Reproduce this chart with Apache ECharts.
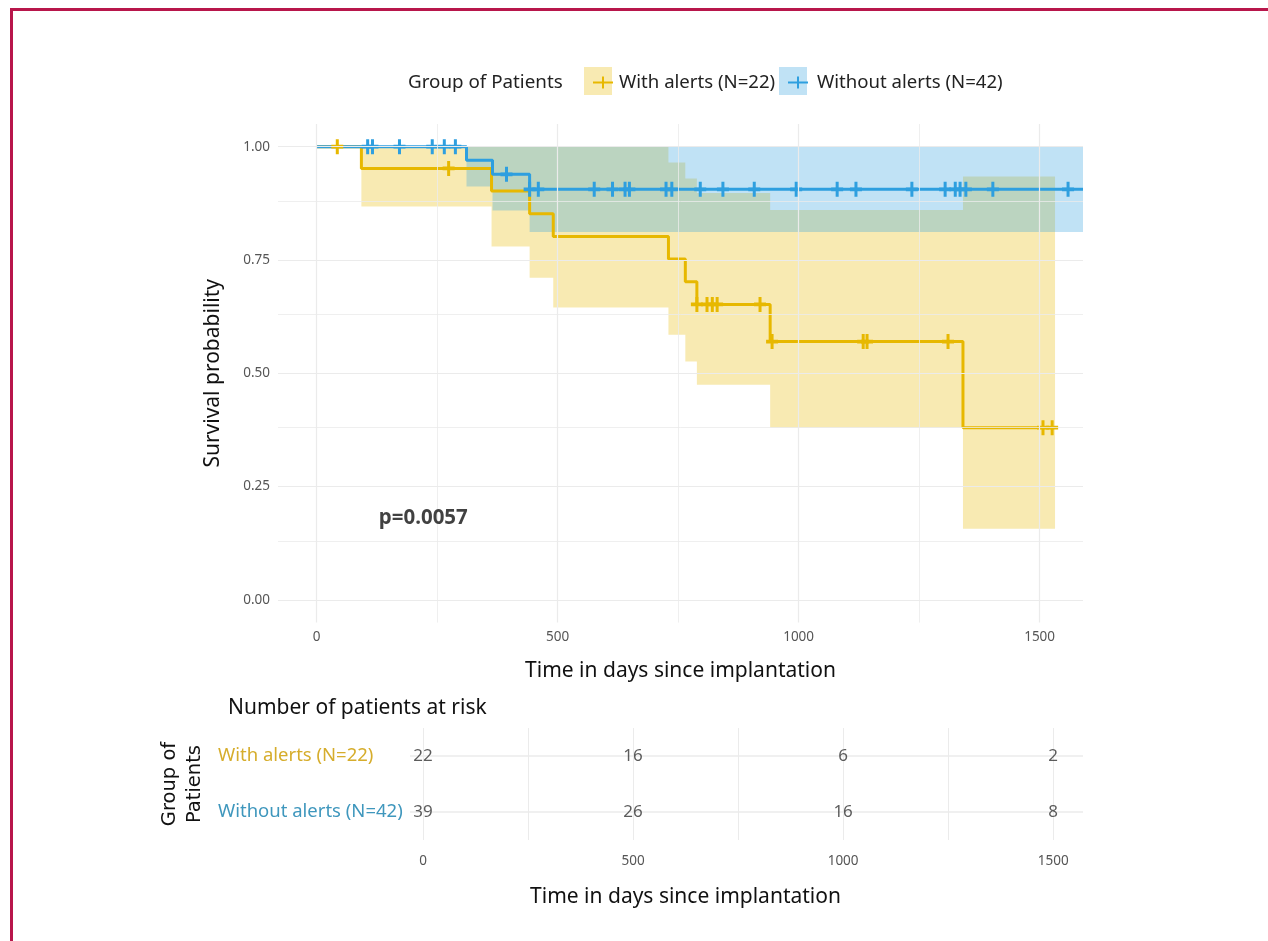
<!DOCTYPE html>
<html><head><meta charset="utf-8">
<script src="https://cdn.jsdelivr.net/npm/echarts@6/dist/echarts.min.js"></script>
<style>
html,body{margin:0;padding:0;background:#fff;}
#frame{position:absolute;left:10px;top:8px;width:1258px;height:933px;border-top:3px solid #b8164b;border-left:3px solid #b8164b;box-sizing:border-box;}
#chart{position:absolute;left:0;top:0;width:1268px;height:941px;}
</style></head><body>
<div id="frame"></div><div id="chart"></div>
<script>
// ---- data ----
const groups = ['With alerts (N=22)', 'Without alerts (N=42)'];
const withSurv = [[0,1],[93,0.952],[363,0.902],[442,0.852],[491,0.802],[730,0.752],[765,0.702],[789,0.652],[941,0.570],[1341,0.380],[1530,0.380]];
const withoutSurv = [[0,1],[311,0.970],[365,0.939],[442,0.906],[1590,0.906]];
const withCensor = [[43,1],[274,0.952],[789,0.652],[810,0.652],[821,0.652],[831,0.652],[920,0.652],[945,0.570],[1134,0.570],[1142,0.570],[1310,0.570],[1507,0.380],[1526,0.380]];
const withoutCensor = [[106,1],[116,1],[172,1],[240,1],[265,1],[288,1],[394,0.939],[442,0.906],[460,0.906],[576,0.906],[614,0.906],[640,0.906],[649,0.906],[725,0.906],[737,0.906],[796,0.906],[843,0.906],[908,0.906],[995,0.906],[1080,0.906],[1119,0.906],[1235,0.906],[1304,0.906],[1325,0.906],[1335,0.906],[1347,0.906],[1403,0.906],[1559,0.906]];
// confidence bands: [start, end, lower, upper]
const withCI = [[93,363,0.868,1],[363,442,0.78,1],[442,491,0.711,1],[491,730,0.645,1],[730,765,0.585,0.965],[765,789,0.526,0.93],[789,941,0.475,0.898],[941,1341,0.38,0.86],[1341,1532,0.157,0.934]];
const withoutCI = [[311,365,0.912,1],[365,442,0.859,1],[442,1590,0.812,1]];
const riskTimes = [0,500,1000,1500];
const withRisk = [22,16,6,2];
const withoutRisk = [39,26,16,8];
const xTicks = [0,500,1000,1500];
const xMinor = [250,750,1250];
const yTicks = [0,0.25,0.5,0.75,1];
const yMinor = [0.125,0.375,0.625,0.875];
const pValue = 'p=0.0057';
const pPos = [129,0.181];

// ---- styles ----
const YEL = '#E7B800', BLU = '#2E9FDF';
const FONT = 'Noto Sans';
const GRID = '#ebebeb';
const plusIcon = 'path://M9,0H11V5H20V7H11V12H9V7H0V5H9Z';
const plusSym = 'path://M-1.5,-6H1.5V-1.5H6V1.5H1.5V6H-1.5V1.5H-6V-1.5H-1.5Z';

function band(segs, color) {
  return {
    type: 'custom', xAxisIndex: 0, yAxisIndex: 0, z: 2, silent: true,
    data: [[0, 0]],
    renderItem: function (params, api) {
      const pts = [];
      segs.forEach(s => { pts.push(api.coord([s[0], s[3]])); pts.push(api.coord([s[1], s[3]])); });
      for (let i = segs.length - 1; i >= 0; i--) {
        const s = segs[i];
        pts.push(api.coord([s[1], s[2]])); pts.push(api.coord([s[0], s[2]]));
      }
      return { type: 'polygon', shape: { points: pts }, style: { fill: color, opacity: 0.3 } };
    }
  };
}

const chart = echarts.init(document.getElementById('chart'), null, { renderer: 'canvas' });
const option = {
  backgroundColor: 'transparent',
  animation: false,
  textStyle: { fontFamily: FONT },
  title: [
    { text: 'Group of Patients', left: 403, top: 68, textStyle: { fontFamily: FONT, fontSize: 18.8, fontWeight: 'normal', color: '#222' } },
    { text: 'Number of patients at risk', left: 223, top: 693, textStyle: { fontFamily: FONT, fontSize: 21, fontWeight: 'normal', color: '#111' } }
  ],
  legend: [
    { left: 588, top: 68, itemWidth: 20, itemHeight: 12, selectedMode: false,
      data: [{ name: groups[0], icon: plusIcon }],
      textStyle: { fontFamily: FONT, fontSize: 18.6, color: '#222', padding: [0, 0, 0, 1] } },
    { left: 783, top: 68, itemWidth: 20, itemHeight: 12, selectedMode: false,
      data: [{ name: groups[1], icon: plusIcon }],
      textStyle: { fontFamily: FONT, fontSize: 18.6, color: '#222', padding: [0, 0, 0, 4] } }
  ],
  graphic: [
    { type: 'rect', z: 0, shape: { x: 584, y: 67, width: 28, height: 28 }, style: { fill: YEL, opacity: 0.3 } },
    { type: 'rect', z: 0, shape: { x: 779, y: 67, width: 28, height: 28 }, style: { fill: BLU, opacity: 0.3 } }
  ],
  grid: [
    { left: 278, right: 185, top: 124, height: 498.6, outerBoundsMode: 'none' },
    { left: 410, right: 185, top: 728, height: 112, outerBoundsMode: 'none' }
  ],
  xAxis: [
    { type: 'value', gridIndex: 0, min: -80, max: 1590,
      name: 'Time in days since implantation', nameLocation: 'middle', nameGap: 38,
      nameTextStyle: { fontFamily: FONT, fontSize: 21, color: '#111' },
      axisLine: { show: false }, splitLine: { show: false },
      axisTick: { show: true, customValues: xTicks, length: 4, lineStyle: { color: '#777' } },
      axisLabel: { customValues: xTicks, margin: 8, fontFamily: FONT, fontSize: 13.5, color: '#555',
        formatter: v => String(v) } },
    { type: 'value', gridIndex: 1, min: -31, max: 1571,
      name: 'Time in days since implantation', nameLocation: 'middle', nameGap: 47,
      nameTextStyle: { fontFamily: FONT, fontSize: 21, color: '#111', padding: [0, 122, 0, 0] },
      axisLine: { show: false }, splitLine: { show: false }, axisTick: { show: false },
      axisLabel: { customValues: riskTimes, margin: 14, fontFamily: FONT, fontSize: 13.5, color: '#555',
        formatter: v => String(v) } }
  ],
  yAxis: [
    { type: 'value', gridIndex: 0, min: -0.05, max: 1.05,
      name: 'Survival probability', nameLocation: 'middle', nameGap: 54, nameRotate: 90,
      nameTextStyle: { fontFamily: FONT, fontSize: 21, color: '#111' },
      axisLine: { show: false }, splitLine: { show: false },
      axisTick: { show: true, customValues: yTicks, length: 5, lineStyle: { color: '#555' } },
      axisLabel: { customValues: yTicks, margin: 8, fontFamily: FONT, fontSize: 13.5, color: '#555',
        formatter: v => v.toFixed(2) } },
    { type: 'category', gridIndex: 1, data: [groups[1], groups[0]],
      name: 'Group of\nPatients', nameLocation: 'middle', nameGap: 196, nameRotate: 90,
      nameTextStyle: { fontFamily: 'DejaVu Sans', fontSize: 19.5, color: '#111', lineHeight: 25 },
      axisLine: { show: false }, axisTick: { show: false }, splitLine: { show: false },
      axisLabel: { align: 'left', margin: 192, fontFamily: FONT, fontSize: 18.5,
        color: (v) => v === groups[0] ? '#d6ad2c' : '#3f97bd' } }
  ],
  series: [
    { type: 'line', name: 'gridlines', xAxisIndex: 0, yAxisIndex: 0, data: [], z: 1, silent: true,
      markLine: { silent: true, symbol: 'none', label: { show: false },
        data: [].concat(
          xTicks.map(v => ({ xAxis: v, lineStyle: { color: GRID, width: 1.2, type: 'solid' } })),
          xMinor.map(v => ({ xAxis: v, lineStyle: { color: GRID, width: 0.8, type: 'solid' } })),
          yTicks.map(v => ({ yAxis: v, lineStyle: { color: GRID, width: 1.2, type: 'solid' } })),
          yMinor.map(v => ({ yAxis: v, lineStyle: { color: GRID, width: 0.8, type: 'solid' } }))
        ) } },
    { type: 'line', name: 'riskgrid', xAxisIndex: 1, yAxisIndex: 1, data: [], z: 1, silent: true,
      markLine: { silent: true, symbol: 'none', label: { show: false },
        data: [].concat(
          riskTimes.map(v => ({ xAxis: v, lineStyle: { color: GRID, width: 1, type: 'solid' } })),
          xMinor.map(v => ({ xAxis: v, lineStyle: { color: GRID, width: 1, type: 'solid' } })),
          groups.map(g => ({ yAxis: g, lineStyle: { color: GRID, width: 1.5, type: 'solid' } }))
        ) } },
    band(withCI, YEL),
    band(withoutCI, BLU),
    { type: 'line', name: groups[0], xAxisIndex: 0, yAxisIndex: 0, step: 'end', data: withSurv, z: 3,
      showSymbol: false, symbol: 'none', color: YEL, itemStyle: { color: YEL },
      lineStyle: { color: YEL, width: 3 } },
    { type: 'line', name: groups[1], xAxisIndex: 0, yAxisIndex: 0, step: 'end', data: withoutSurv, z: 3,
      showSymbol: false, symbol: 'none', color: BLU, itemStyle: { color: BLU },
      lineStyle: { color: BLU, width: 3 } },
    { type: 'scatter', name: 'with-censor', xAxisIndex: 0, yAxisIndex: 0, data: withCensor, z: 4,
      symbol: plusSym, symbolSize: [12, 15], itemStyle: { color: YEL, opacity: 1 }, silent: true },
    { type: 'scatter', name: 'without-censor', xAxisIndex: 0, yAxisIndex: 0, data: withoutCensor, z: 4,
      symbol: plusSym, symbolSize: [12, 15], itemStyle: { color: BLU, opacity: 1 }, silent: true },
    { type: 'scatter', name: 'pvalue', xAxisIndex: 0, yAxisIndex: 0, data: [pPos], symbolSize: 0, z: 5, silent: true,
      label: { show: true, position: 'right', distance: 0, formatter: pValue,
        fontFamily: FONT, fontSize: 20.5, fontWeight: 'bold', color: '#111' } },
    { type: 'scatter', name: 'risk-with', xAxisIndex: 1, yAxisIndex: 1, symbolSize: 0, z: 5, silent: true,
      data: riskTimes.map((t, i) => [t, groups[0], withRisk[i]]),
      label: { show: true, position: 'inside', formatter: p => String(p.value[2]),
        fontFamily: FONT, fontSize: 17, color: '#333' } },
    { type: 'scatter', name: 'risk-without', xAxisIndex: 1, yAxisIndex: 1, symbolSize: 0, z: 5, silent: true,
      data: riskTimes.map((t, i) => [t, groups[1], withoutRisk[i]]),
      label: { show: true, position: 'inside', formatter: p => String(p.value[2]),
        fontFamily: FONT, fontSize: 17, color: '#333' } }
  ]
};
chart.setOption(option);
</script>
</body></html>
